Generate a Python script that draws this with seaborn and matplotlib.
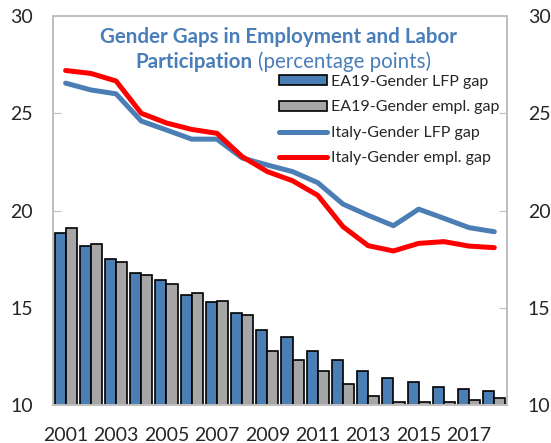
import numpy as np
import pandas as pd
import matplotlib.pyplot as plt
import seaborn as sns

# data
years = [str(y) for y in range(2001, 2019)]
ea19_lfp_gap = [18.83, 18.17, 17.50, 16.77, 16.41, 15.66, 15.28, 14.73, 13.87, 13.51,
                12.78, 12.30, 11.75, 11.37, 11.20, 10.91, 10.82, 10.74]
ea19_empl_gap = [19.09, 18.26, 17.34, 16.67, 16.20, 15.74, 15.36, 14.63, 12.78, 12.31,
                 11.75, 11.10, 10.45, 10.17, 10.17, 10.17, 10.27, 10.34]
italy_lfp_gap = [26.55, 26.20, 26.00, 24.60, 24.14, 23.67, 23.67, 22.70, 22.34, 22.00,
                 21.43, 20.33, 19.75, 19.22, 20.07, 19.60, 19.12, 18.91]
italy_empl_gap = [27.20, 27.05, 26.66, 25.00, 24.50, 24.17, 23.97, 22.77, 22.00, 21.53,
                  20.78, 19.17, 18.19, 17.92, 18.31, 18.40, 18.17, 18.09]

bar_names = ["EA19-Gender LFP gap", "EA19-Gender empl. gap"]
line_names = ["Italy-Gender LFP gap", "Italy-Gender empl. gap"]

blue = "#4A7EB4"
gray = "#A6A6A6"
red = "#FF0000"
title_col = "#4A7EBA"
spine_col = "#BFBFBF"

bars = pd.DataFrame({
    "year": years * 2,
    "series": [bar_names[0]] * len(years) + [bar_names[1]] * len(years),
    "value": ea19_lfp_gap + ea19_empl_gap,
})

sns.set_style("white")
plt.rcParams["font.family"] = ["Lato", "DejaVu Sans"]

fig = plt.figure(figsize=(5.51, 4.43), dpi=100)
ax = fig.add_axes([0.0962, 0.0858, 0.8238, 0.878])

sns.barplot(data=bars, x="year", y="value", hue="series", palette=[blue, gray],
            edgecolor="black", linewidth=1.2, width=0.88, saturation=1, ax=ax)

xpos = np.arange(len(years))
sns.lineplot(x=xpos, y=italy_lfp_gap, color=blue, linewidth=3.6, label=line_names[0], ax=ax)
sns.lineplot(x=xpos, y=italy_empl_gap, color=red, linewidth=3.6, label=line_names[1], ax=ax)

ax.set_ylim(10, 30)
ax.set_xlim(-0.5, len(years) - 0.5)
ax.set_yticks([10, 15, 20, 25, 30])
ax.set_xticks(xpos)
ax.set_xticklabels([y if i % 2 == 0 else "" for i, y in enumerate(years)])
ax.set_xlabel("")
ax.set_ylabel("")
ax.tick_params(axis="x", length=0, labelsize=14, pad=16)
ax.tick_params(axis="y", direction="in", length=6, color=spine_col, labelsize=14, pad=14.5)

ax2 = ax.twinx()
ax2.set_ylim(10, 30)
ax2.set_yticks([10, 15, 20, 25, 30])
ax2.tick_params(axis="y", direction="in", length=6, color=spine_col, labelsize=14, pad=15)

for a in (ax, ax2):
    for s in a.spines.values():
        s.set_visible(True)
        s.set_color(spine_col)
        s.set_linewidth(1.2)

leg = ax.legend(loc="upper left", bbox_to_anchor=(0.483, 0.865), frameon=False,
                fontsize=11.5, handlelength=3.0, handleheight=0.55, handletextpad=0.3,
                labelspacing=0.72, borderaxespad=0)

ax.text(0.496, 0.946, "Gender Gaps in Employment and Labor", transform=ax.transAxes,
        ha="center", va="center", fontsize=14.8, fontweight="bold", color=title_col)
ax.text(0.44, 0.882, "Participation", transform=ax.transAxes,
        ha="right", va="center", fontsize=14.8, fontweight="bold", color=title_col)
ax.text(0.452, 0.882, "(percentage points)", transform=ax.transAxes,
        ha="left", va="center", fontsize=14.8, color=title_col)

fig.savefig("out.png", dpi=100)
